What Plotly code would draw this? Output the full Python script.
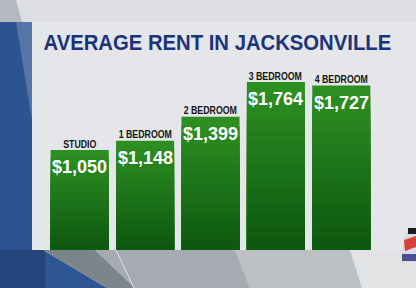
import json
import plotly.graph_objects as go

# ---- data ----
categories = ["STUDIO", "1 BEDROOM", "2 BEDROOM", "3 BEDROOM", "4 BEDROOM"]
rents = [1050, 1148, 1399, 1764, 1727]
value_labels = ["$1,050", "$1,148", "$1,399", "$1,764", "$1,727"]
title_text = "AVERAGE RENT IN JACKSONVILLE"

# ---- layout geometry (pixels) ----
W, H = 416, 288
ML, MR, MT, MB = 47, 42, 60, 38
PW, PH = W - ML - MR, H - MT - MB


def px(x):
    return (x - ML) / PW


def py(y):
    return (H - MB - y) / PH


def path(points):
    return "M " + " L ".join(f"{px(x):.4f},{py(y):.4f}" for x, y in points) + " Z"


def lerp(c1, c2, t):
    return "#%02x%02x%02x" % tuple(round(a + (b - a) * t) for a, b in zip(c1, c2))


TOP = (0x2e, 0x91, 0x22)
BOT = (0x0d, 0x57, 0x0f)
N = 14
FONT = "Liberation Sans, Arial, Helvetica, sans-serif"

fig = go.Figure()
for k in range(N):
    frac = 1 - k / N
    col = lerp(TOP, BOT, (k + 0.5) / N)
    fig.add_trace(go.Bar(
        x=categories,
        y=[v * frac for v in rents],
        marker=dict(color=col, line=dict(width=0)),
        hoverinfo="skip" if k else "x+y",
        showlegend=False,
    ))

annotations = []
for cat, v, lab in zip(categories, rents, value_labels):
    annotations.append(dict(
        x=cat, y=v, xref="x", yref="y", text=lab, showarrow=False,
        yanchor="middle", yshift=-17,
        font=dict(family=FONT, size=18, color="white", weight="bold"),
    ))
    annotations.append(dict(
        x=cat, y=v, xref="x", yref="y", text=cat, showarrow=False,
        yanchor="middle", yshift=6.5,
        font=dict(family=FONT, size=11, color="#161616", weight="bold"),
    ))

annotations.append(dict(
    x=px(43 + 349 / 2), y=py(43), xref="paper", yref="paper", text=title_text,
    showarrow=False, xanchor="center", yanchor="middle",
    font=dict(family=FONT, size=21.5, color="#1b3479", weight="bold"),
))

shapes = [
    # top strip
    dict(type="rect", xref="paper", yref="paper", x0=px(0), x1=px(W), y0=py(0), y1=py(22),
         fillcolor="#dcdee1", line_width=0, layer="below"),
    dict(type="path", xref="paper", yref="paper",
         path=path([(0, 0), (16, 0), (22, 22), (0, 22)]),
         fillcolor="#b4b9c0", line_width=0, layer="below"),
    # left blue image area
    dict(type="rect", xref="paper", yref="paper", x0=px(0), x1=px(32), y0=py(22), y1=py(250),
         fillcolor="#2d5391", line_width=0, layer="below"),
    dict(type="path", xref="paper", yref="paper",
         path=path([(16, 22), (32, 22), (32, 120)]),
         fillcolor="#5676a8", line_width=0, layer="below"),
    # bottom left blue
    dict(type="path", xref="paper", yref="paper",
         path=path([(0, 250), (43, 250), (107, 288), (0, 288)]),
         fillcolor="#2c5592", line_width=0, layer="below"),
    dict(type="rect", xref="paper", yref="paper", x0=px(0), x1=px(45), y0=py(250), y1=py(288),
         fillcolor="#24467c", line_width=0, layer="below"),
    # bottom grey stripes
    dict(type="path", xref="paper", yref="paper",
         path=path([(43, 250), (95, 250), (135, 288), (107, 288)]),
         fillcolor="#7d858c", line_width=0, layer="below"),
    dict(type="path", xref="paper", yref="paper",
         path=path([(95, 250), (235, 250), (250, 288), (135, 288)]),
         fillcolor="#a5abb1", line_width=0, layer="below"),
    dict(type="path", xref="paper", yref="paper",
         path=path([(235, 250), (350, 250), (362, 288), (250, 288)]),
         fillcolor="#bcc0c4", line_width=0, layer="below"),
    dict(type="path", xref="paper", yref="paper",
         path=path([(350, 250), (W, 250), (W, 288), (362, 288)]),
         fillcolor="#e2e3e5", line_width=0, layer="below"),
    dict(type="line", xref="paper", yref="paper",
         x0=px(116), y0=py(250), x1=px(134), y1=py(288),
         line=dict(color="#dfe3e6", width=1), layer="below"),
    # main panel
    dict(type="rect", xref="paper", yref="paper", x0=px(32), x1=px(W), y0=py(22), y1=py(250),
         fillcolor="#e4e6e9", line_width=0, layer="below"),
    # station logo hint
    dict(type="path", xref="paper", yref="paper",
         path=path([(405, 232), (416, 229), (416, 262), (401, 262)]),
         fillcolor="#d9dbe3", line_width=0, layer="above"),
    dict(type="rect", xref="paper", yref="paper", x0=px(408), x1=px(416), y0=py(228), y1=py(234),
         fillcolor="#1b1b1b", line_width=0, layer="above"),
    dict(type="path", xref="paper", yref="paper",
         path=path([(404, 240), (416, 236), (416, 247), (405, 251)]),
         fillcolor="#d4403a", line_width=0, layer="above"),
    dict(type="rect", xref="paper", yref="paper", x0=px(402), x1=px(416), y0=py(254), y1=py(261),
         fillcolor="#4a4f8e", line_width=0, layer="above"),
]

fig.update_layout(
    width=W, height=H,
    margin=dict(l=ML, r=MR, t=MT, b=MB, pad=0),
    paper_bgcolor="#dcdee1",
    plot_bgcolor="rgba(0,0,0,0)",
    barmode="overlay",
    bargap=0.112,
    xaxis=dict(visible=False, range=[-0.5, 4.5], fixedrange=True),
    yaxis=dict(visible=False, range=[0, 1995], fixedrange=True),
    annotations=annotations,
    shapes=shapes,
    showlegend=False,
)

# condense the headline and category labels (the broadcast graphic uses a condensed face)
condensed = {title_text: 0.943}
for c in categories:
    condensed[c] = 0.80
post = """
var squeeze = %s;
var gd = document.getElementById('{plot_id}');
gd.querySelectorAll('text.annotation-text').forEach(function(t){
  var f = squeeze[t.textContent];
  if (f) {
    var L = t.getComputedTextLength();
    var d = L * (1 - f);
    t.setAttribute('textLength', (L * f).toFixed(1));
    t.setAttribute('lengthAdjust', 'spacingAndGlyphs');
    var g = t.parentNode;
    g.querySelectorAll('rect').forEach(function(r){
      var w = parseFloat(r.getAttribute('width'));
      var x = parseFloat(r.getAttribute('x')) || 0;
      if (w > d) {
        r.setAttribute('width', (w - d).toFixed(1));
        r.setAttribute('x', (x + d / 2).toFixed(1));
      }
    });
  }
});
""" % json.dumps(condensed)

fig.write_html("out.html", config={"displayModeBar": False}, post_script=post)
